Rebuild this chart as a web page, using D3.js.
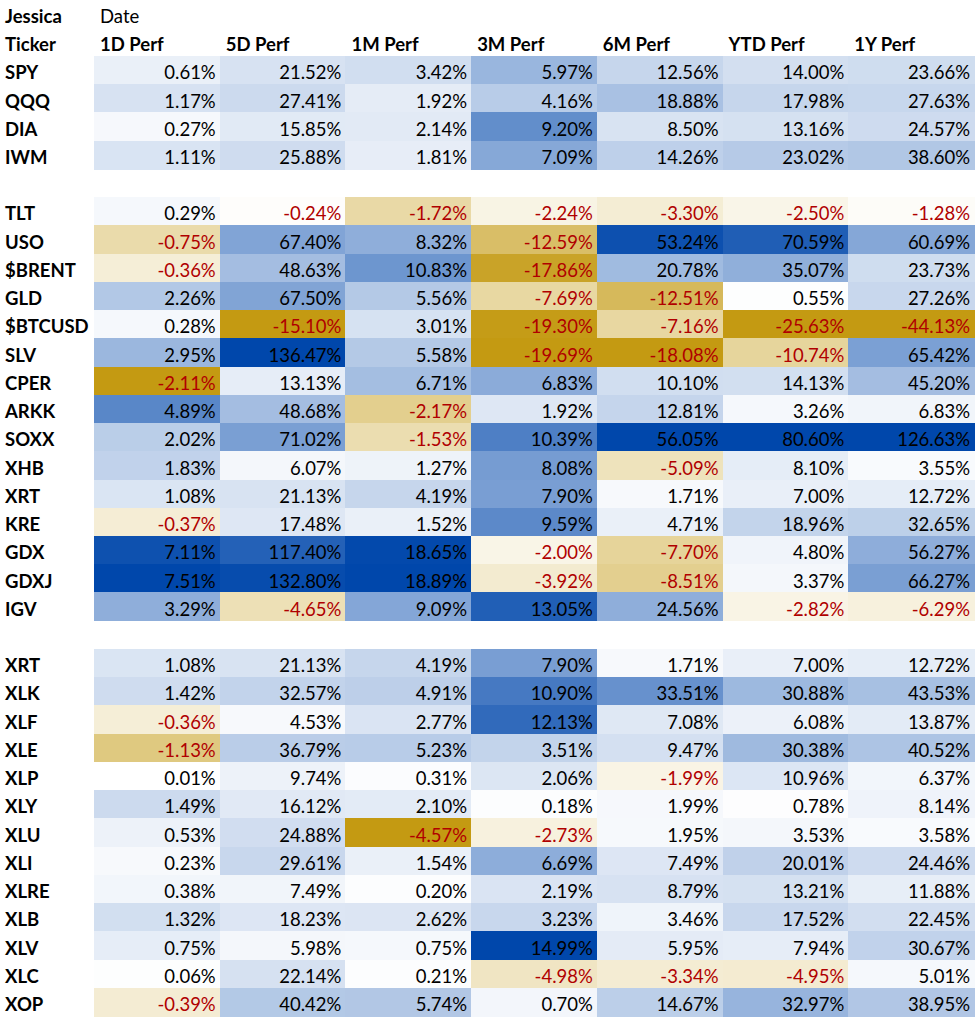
<!DOCTYPE html>
<html>
<head>
<meta charset="utf-8">
<script src="https://cdn.jsdelivr.net/npm/d3@7"></script>
<style>
  html, body { margin: 0; padding: 0; background: #ffffff; }
  svg { display: block; }
  text { font-family: Lato, "Open Sans", sans-serif; }
</style>
</head>
<body>
<script>
// ---------- DATA ----------
const titleLeft = "Jessica";
const titleRight = "Date";
const tickerHeader = "Ticker";
const columns = ["1D Perf", "5D Perf", "1M Perf", "3M Perf", "6M Perf", "YTD Perf", "1Y Perf"];

// null = blank separator row
const tickers = ["SPY", "QQQ", "DIA", "IWM", null,
  "TLT", "USO", "$BRENT", "GLD", "$BTCUSD", "SLV", "CPER", "ARKK", "SOXX", "XHB", "XRT", "KRE", "GDX", "GDXJ", "IGV", null,
  "XRT", "XLK", "XLF", "XLE", "XLP", "XLY", "XLU", "XLI", "XLRE", "XLB", "XLV", "XLC", "XOP"];

const perf1D = [0.61, 1.17, 0.27, 1.11, null,
  0.29, -0.75, -0.36, 2.26, 0.28, 2.95, -2.11, 4.89, 2.02, 1.83, 1.08, -0.37, 7.11, 7.51, 3.29, null,
  1.08, 1.42, -0.36, -1.13, 0.01, 1.49, 0.53, 0.23, 0.38, 1.32, 0.75, 0.06, -0.39];

const perf5D = [21.52, 27.41, 15.85, 25.88, null,
  -0.24, 67.40, 48.63, 67.50, -15.10, 136.47, 13.13, 48.68, 71.02, 6.07, 21.13, 17.48, 117.40, 132.80, -4.65, null,
  21.13, 32.57, 4.53, 36.79, 9.74, 16.12, 24.88, 29.61, 7.49, 18.23, 5.98, 22.14, 40.42];

const perf1M = [3.42, 1.92, 2.14, 1.81, null,
  -1.72, 8.32, 10.83, 5.56, 3.01, 5.58, 6.71, -2.17, -1.53, 1.27, 4.19, 1.52, 18.65, 18.89, 9.09, null,
  4.19, 4.91, 2.77, 5.23, 0.31, 2.10, -4.57, 1.54, 0.20, 2.62, 0.75, 0.21, 5.74];

const perf3M = [5.97, 4.16, 9.20, 7.09, null,
  -2.24, -12.59, -17.86, -7.69, -19.30, -19.69, 6.83, 1.92, 10.39, 8.08, 7.90, 9.59, -2.00, -3.92, 13.05, null,
  7.90, 10.90, 12.13, 3.51, 2.06, 0.18, -2.73, 6.69, 2.19, 3.23, 14.99, -4.98, 0.70];

const perf6M = [12.56, 18.88, 8.50, 14.26, null,
  -3.30, 53.24, 20.78, -12.51, -7.16, -18.08, 10.10, 12.81, 56.05, -5.09, 1.71, 4.71, -7.70, -8.51, 24.56, null,
  1.71, 33.51, 7.08, 9.47, -1.99, 1.99, 1.95, 7.49, 8.79, 3.46, 5.95, -3.34, 14.67];

const perfYTD = [14.00, 17.98, 13.16, 23.02, null,
  -2.50, 70.59, 35.07, 0.55, -25.63, -10.74, 14.13, 3.26, 80.60, 8.10, 7.00, 18.96, 4.80, 3.37, -2.82, null,
  7.00, 30.88, 6.08, 30.38, 10.96, 0.78, 3.53, 20.01, 13.21, 17.52, 7.94, -4.95, 32.97];

const perf1Y = [23.66, 27.63, 24.57, 38.60, null,
  -1.28, 60.69, 23.73, 27.26, -44.13, 65.42, 45.20, 6.83, 126.63, 3.55, 12.72, 32.65, 56.27, 66.27, -6.29, null,
  12.72, 43.53, 13.87, 40.52, 6.37, 8.14, 3.58, 24.46, 11.88, 22.45, 30.67, 5.01, 38.95];

const series = [perf1D, perf5D, perf1M, perf3M, perf6M, perfYTD, perf1Y];

// ---------- LAYOUT ----------
const W = 975, H = 1017;
const tickerColW = 94;
const lowColor = "#C49A12", midColor = "#FFFFFF", highColor = "#0047AB";
const negText = "#B00000", posText = "#000000";
const fontSize = 18.5;

const svg = d3.select("body").append("svg")
  .attr("width", W).attr("height", H);

const rowKeys = d3.range(tickers.length + 2); // 2 header rows
const y = d3.scaleBand().domain(rowKeys).range([-0.5, 1016]).paddingInner(0).paddingOuter(0);
const x = d3.scaleBand().domain(columns).range([tickerColW, 974]).paddingInner(0).paddingOuter(0);

const baseOff = 23.3;

// header rows
svg.append("text").attr("x", 5).attr("y", y(0) + baseOff)
  .attr("font-size", fontSize).attr("font-weight", 700).text(titleLeft);
svg.append("text").attr("x", tickerColW + 6).attr("y", y(0) + baseOff)
  .attr("font-size", fontSize).attr("font-weight", 400).text(titleRight);
svg.append("text").attr("x", 5).attr("y", y(1) + baseOff)
  .attr("font-size", fontSize).attr("font-weight", 700).text(tickerHeader);
svg.selectAll("text.colhdr").data(columns).join("text")
  .attr("class", "colhdr")
  .attr("x", d => x(d) + 6).attr("y", y(1) + baseOff)
  .attr("font-size", fontSize).attr("font-weight", 700).text(d => d);

// per-column colour scales (min -> gold, 0 -> white, max -> blue)
const colorScales = series.map(vals => {
  const v = vals.filter(d => d !== null);
  return d3.scaleLinear().domain([d3.min(v), 0, d3.max(v)])
    .range([lowColor, midColor, highColor]).interpolate(d3.interpolateRgb).clamp(true);
});

// ticker labels
const rows = tickers.map((t, i) => ({ t, i })).filter(d => d.t !== null);
svg.selectAll("text.tk").data(rows).join("text")
  .attr("class", "tk")
  .attr("x", 5).attr("y", d => y(d.i + 2) + baseOff)
  .attr("font-size", fontSize).attr("font-weight", 700).text(d => d.t);

// cells
const cells = [];
series.forEach((vals, c) => {
  vals.forEach((v, i) => {
    if (v !== null) cells.push({ c, i, v });
  });
});

const g = svg.append("g");
g.selectAll("rect").data(cells).join("rect")
  .attr("x", d => x(columns[d.c]))
  .attr("y", d => y(d.i + 2))
  .attr("width", x.bandwidth() + 0.6)
  .attr("height", y.bandwidth() + 0.6)
  .attr("fill", d => colorScales[d.c](d.v))
  .attr("shape-rendering", "crispEdges");

const fmt = d3.format(".2f");
g.selectAll("text").data(cells).join("text")
  .attr("x", d => x(columns[d.c]) + x.bandwidth() - 4)
  .attr("y", d => y(d.i + 2) + baseOff)
  .attr("text-anchor", "end")
  .attr("font-size", fontSize)
  .attr("fill", d => d.v < 0 ? negText : posText)
  .text(d => (d.v < 0 ? "-" + fmt(-d.v) : fmt(d.v)) + "%");
</script>
</body>
</html>
